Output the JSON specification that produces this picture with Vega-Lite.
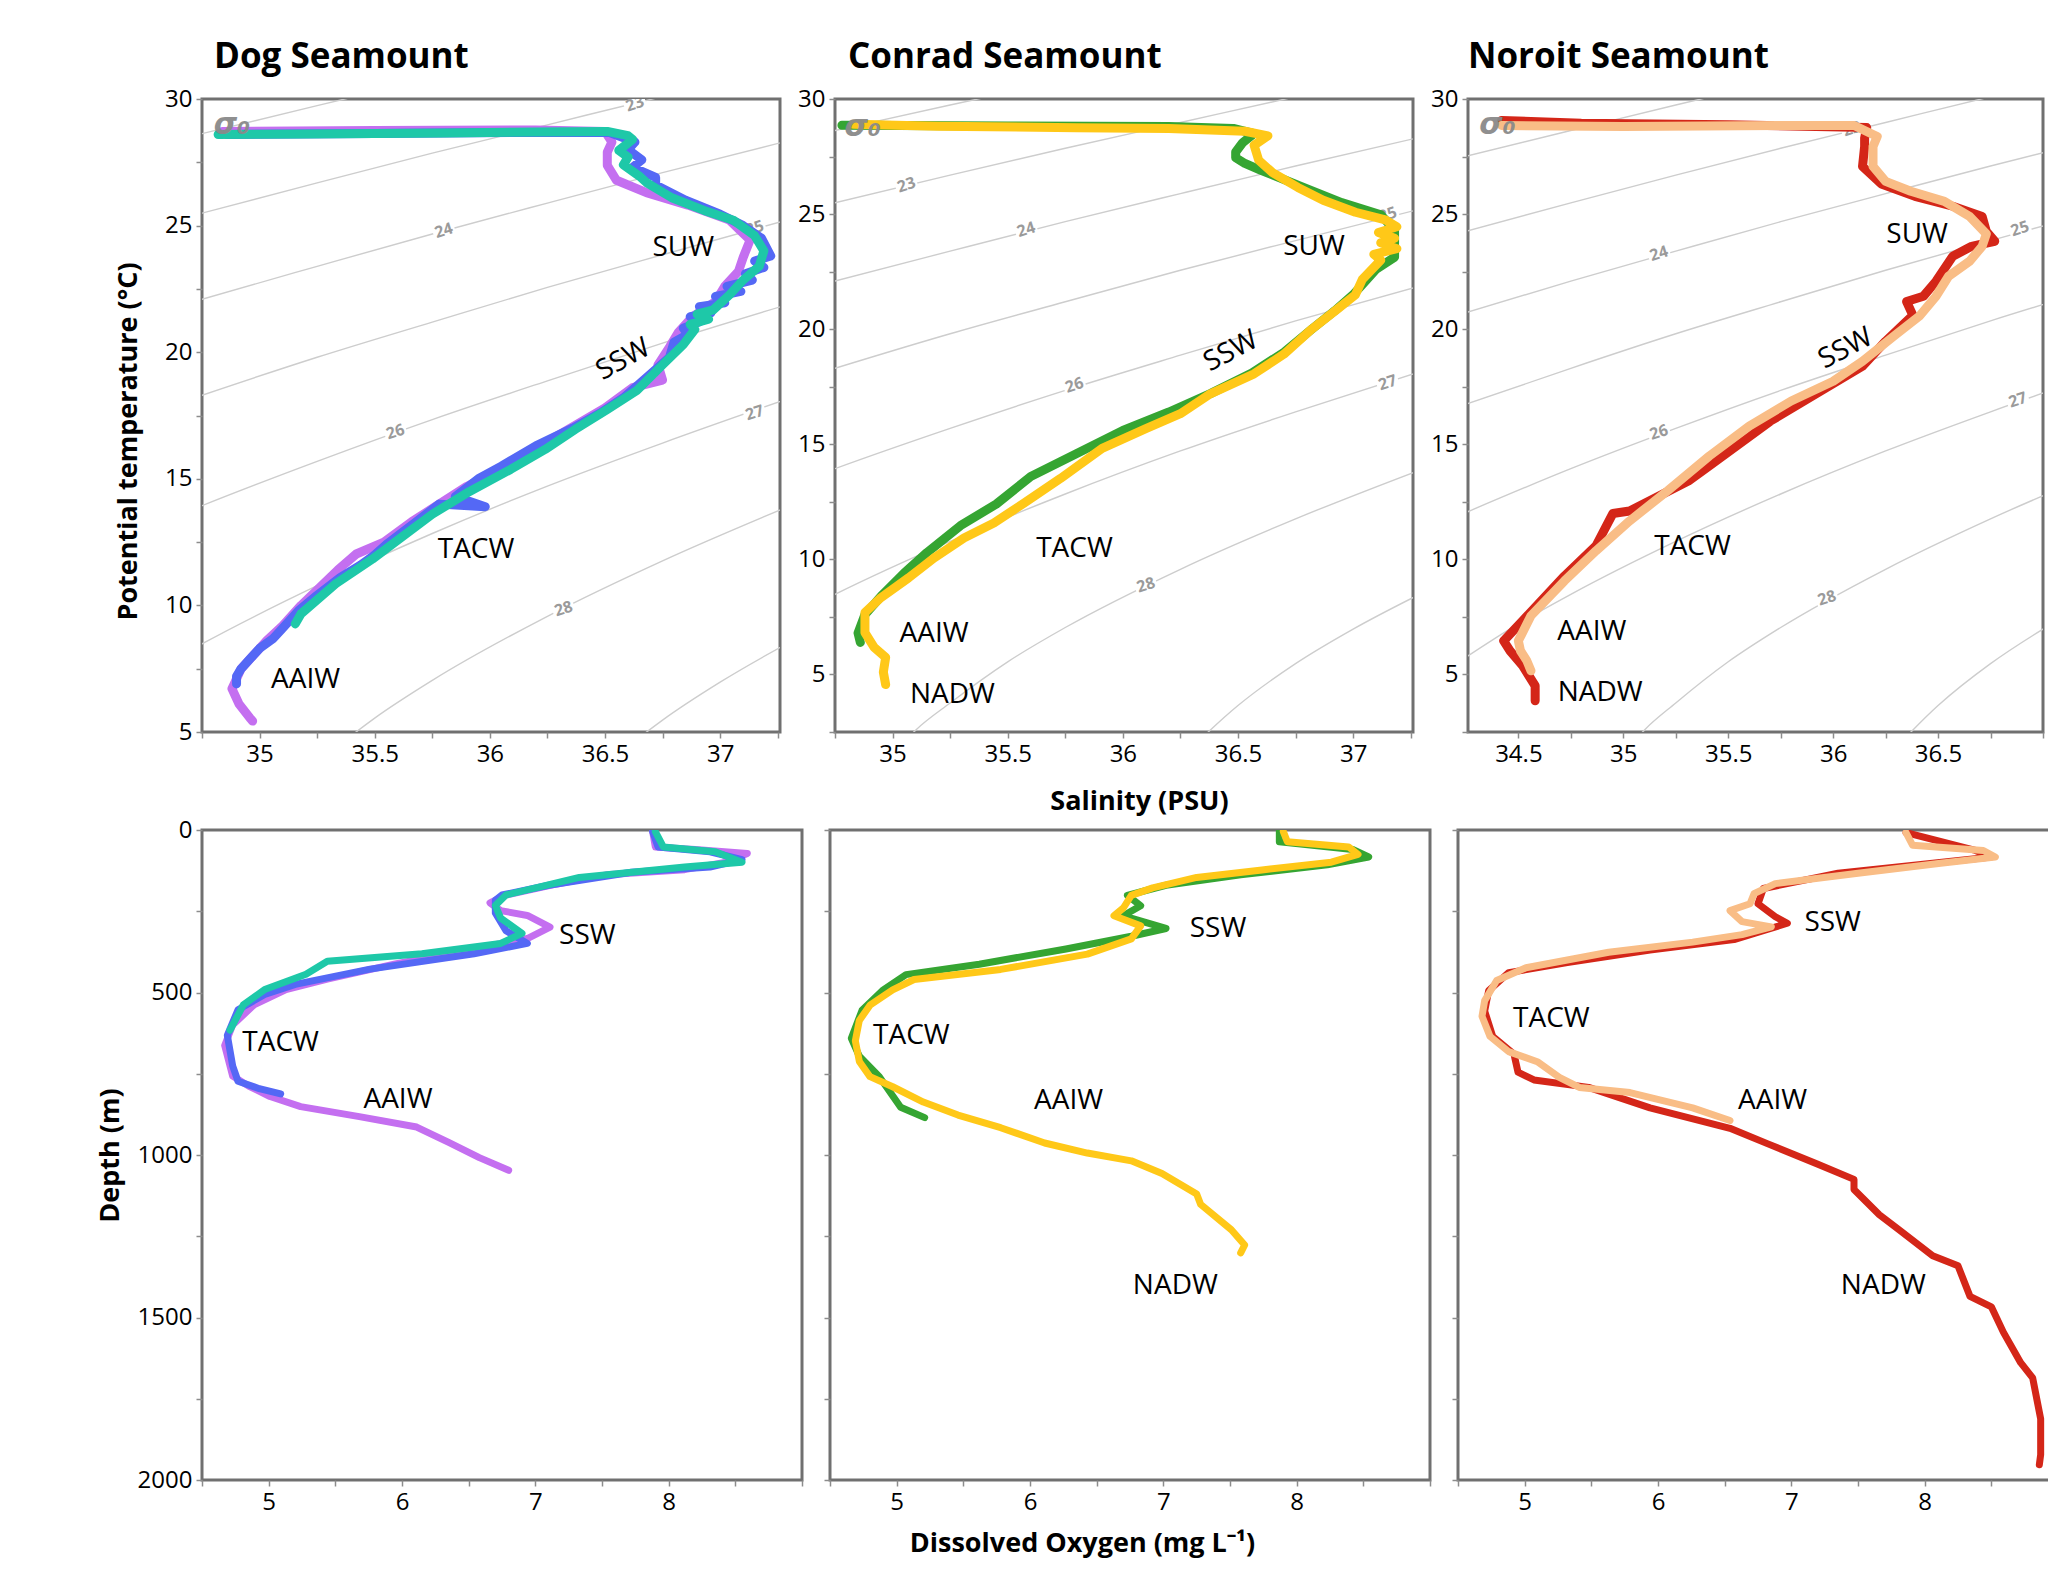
{
"$schema": "https://vega.github.io/schema/vega-lite/v6.json",
"padding": {"left": 94, "top": 38, "right": 0, "bottom": 0},
"background": "white",
"config": {
  "font": "Open Sans",
  "view": {"stroke": "#707070", "strokeWidth": 3},
  "axis": {"domain": false, "grid": false, "tickColor": "#8c8c8c", "tickSize": 6, "tickWidth": 1.5, "labelFontSize": 24, "labelColor": "#000", "labelPadding": 4, "labelFlush": false, "labelOverlap": false, "titleFontSize": 27, "titleFontWeight": "bold", "titleColor": "#000"},
  "title": {"anchor": "start", "frame": "group", "fontSize": 35, "fontWeight": "bold", "color": "#000", "offset": 12, "baseline": "alphabetic"}
},
"datasets": {
  "iso": [
    {"lev":22,"x":34.2,"y":27.40},{"lev":22,"x":34.75,"y":28.63},{"lev":22,"x":35.25,"y":29.74},{"lev":22,"x":35.75,"y":30.82},{"lev":22,"x":36.25,"y":31.88},
    {"lev":23,"x":34.2,"y":24.13},{"lev":23,"x":34.75,"y":25.49},{"lev":23,"x":35.25,"y":26.69},{"lev":23,"x":35.75,"y":27.86},{"lev":23,"x":36.25,"y":28.98},{"lev":23,"x":36.75,"y":30.10},{"lev":23,"x":37.3,"y":31.28},
    {"lev":24,"x":34.2,"y":20.58},{"lev":24,"x":34.75,"y":22.09},{"lev":24,"x":35.25,"y":23.39},{"lev":24,"x":35.75,"y":24.67},{"lev":24,"x":36.25,"y":25.89},{"lev":24,"x":36.75,"y":27.09},{"lev":24,"x":37.3,"y":28.36},
    {"lev":25,"x":34.2,"y":16.58},{"lev":25,"x":34.75,"y":18.30},{"lev":25,"x":35.25,"y":19.80},{"lev":25,"x":35.75,"y":21.19},{"lev":25,"x":36.25,"y":22.56},{"lev":25,"x":36.75,"y":23.85},{"lev":25,"x":37.3,"y":25.24},
    {"lev":26,"x":34.2,"y":11.84},{"lev":26,"x":34.75,"y":13.94},{"lev":26,"x":35.25,"y":15.69},{"lev":26,"x":35.75,"y":17.34},{"lev":26,"x":36.25,"y":18.87},{"lev":26,"x":36.75,"y":20.36},{"lev":26,"x":37.3,"y":21.90},
    {"lev":27,"x":34.2,"y":5.45},{"lev":27,"x":34.5,"y":7.20},{"lev":27,"x":34.75,"y":8.48},{"lev":27,"x":35.25,"y":10.78},{"lev":27,"x":35.75,"y":12.84},{"lev":27,"x":36.25,"y":14.71},{"lev":27,"x":36.75,"y":16.41},{"lev":27,"x":37.3,"y":18.18},
    {"lev":28,"x":35.0,"y":1.53},{"lev":28,"x":35.1,"y":2.58},{"lev":28,"x":35.25,"y":3.76},{"lev":28,"x":35.5,"y":5.55},{"lev":28,"x":35.75,"y":7.04},{"lev":28,"x":36.25,"y":9.57},{"lev":28,"x":36.75,"y":11.76},{"lev":28,"x":37.3,"y":13.92},
    {"lev":29,"x":36.25,"y":1.35},{"lev":29,"x":36.5,"y":3.65},{"lev":29,"x":36.75,"y":5.47},{"lev":29,"x":37.0,"y":6.97},{"lev":29,"x":37.3,"y":8.54}
  ],
  "isolab": [
    {"p":"dog","t":"23","x":36.63,"y":29.8},{"p":"dog","t":"24","x":35.80,"y":24.8},{"p":"dog","t":"25","x":37.15,"y":24.9},{"p":"dog","t":"26","x":35.59,"y":16.85},{"p":"dog","t":"27","x":37.15,"y":17.6},{"p":"dog","t":"28","x":36.32,"y":9.86},
    {"p":"conrad","t":"23","x":35.06,"y":26.26},{"p":"conrad","t":"24","x":35.58,"y":24.32},{"p":"conrad","t":"25","x":37.15,"y":24.97},{"p":"conrad","t":"26","x":35.79,"y":17.56},{"p":"conrad","t":"27","x":37.15,"y":17.67},{"p":"conrad","t":"28","x":36.10,"y":8.88},
    {"p":"noroit","t":"23","x":36.09,"y":28.7},{"p":"noroit","t":"24","x":35.17,"y":23.28},{"p":"noroit","t":"25","x":36.89,"y":24.36},{"p":"noroit","t":"26","x":35.17,"y":15.51},{"p":"noroit","t":"27","x":36.88,"y":16.92},{"p":"noroit","t":"28","x":35.97,"y":8.31}
  ],
  "sig": [
    {"p":"dog","t":"σ₀","x":34.88,"y":28.96},{"p":"conrad","t":"σ₀","x":34.87,"y":28.79},{"p":"noroit","t":"σ₀","x":34.40,"y":28.85}
  ],
  "wm": [
    {"p":"dog","g":"ts","t":"SUW","x":36.84,"y":24.13},{"p":"dog","g":"ts","t":"SSW","x":36.58,"y":19.7},{"p":"dog","g":"ts","t":"TACW","x":35.94,"y":12.17},{"p":"dog","g":"ts","t":"AAIW","x":35.2,"y":7.05},
    {"p":"conrad","g":"ts","t":"SUW","x":36.83,"y":23.56},{"p":"conrad","g":"ts","t":"SSW","x":36.47,"y":19.03},{"p":"conrad","g":"ts","t":"TACW","x":35.79,"y":10.43},{"p":"conrad","g":"ts","t":"AAIW","x":35.18,"y":6.76},{"p":"conrad","g":"ts","t":"NADW","x":35.26,"y":4.12},
    {"p":"noroit","g":"ts","t":"SUW","x":36.40,"y":24.08},{"p":"noroit","g":"ts","t":"SSW","x":36.06,"y":19.15},{"p":"noroit","g":"ts","t":"TACW","x":35.33,"y":10.52},{"p":"noroit","g":"ts","t":"AAIW","x":34.85,"y":6.83},{"p":"noroit","g":"ts","t":"NADW","x":34.89,"y":4.19},
    {"p":"dog","g":"ox","t":"SSW","x":7.39,"y":326},{"p":"dog","g":"ox","t":"TACW","x":5.09,"y":655},{"p":"dog","g":"ox","t":"AAIW","x":5.97,"y":831},
    {"p":"conrad","g":"ox","t":"SSW","x":7.41,"y":306},{"p":"conrad","g":"ox","t":"TACW","x":5.11,"y":633},{"p":"conrad","g":"ox","t":"AAIW","x":6.29,"y":833},{"p":"conrad","g":"ox","t":"NADW","x":7.09,"y":1403},
    {"p":"noroit","g":"ox","t":"SSW","x":7.31,"y":285},{"p":"noroit","g":"ox","t":"TACW","x":5.20,"y":580},{"p":"noroit","g":"ox","t":"AAIW","x":6.86,"y":835},{"p":"noroit","g":"ox","t":"NADW","x":7.69,"y":1404}
  ],
  "ts": [
    {"p":"dog","s":"Dog 1","x":34.84,"y":28.72},{"p":"dog","s":"Dog 1","x":35.5,"y":28.76},{"p":"dog","s":"Dog 1","x":36.2,"y":28.78},{"p":"dog","s":"Dog 1","x":36.5,"y":28.72},{"p":"dog","s":"Dog 1","x":36.53,"y":28.3},{"p":"dog","s":"Dog 1","x":36.51,"y":27.9},{"p":"dog","s":"Dog 1","x":36.51,"y":27.38},{"p":"dog","s":"Dog 1","x":36.55,"y":26.79},{"p":"dog","s":"Dog 1","x":36.68,"y":26.3},{"p":"dog","s":"Dog 1","x":36.86,"y":25.81},{"p":"dog","s":"Dog 1","x":37.04,"y":25.22},{"p":"dog","s":"Dog 1","x":37.13,"y":24.43},{"p":"dog","s":"Dog 1","x":37.10,"y":23.74},{"p":"dog","s":"Dog 1","x":37.08,"y":23.2},{"p":"dog","s":"Dog 1","x":37.02,"y":22.6},{"p":"dog","s":"Dog 1","x":36.98,"y":22.0},{"p":"dog","s":"Dog 1","x":36.88,"y":21.4},{"p":"dog","s":"Dog 1","x":36.82,"y":20.8},{"p":"dog","s":"Dog 1","x":36.78,"y":20.2},{"p":"dog","s":"Dog 1","x":36.73,"y":19.5},{"p":"dog","s":"Dog 1","x":36.75,"y":18.9},{"p":"dog","s":"Dog 1","x":36.62,"y":18.6},{"p":"dog","s":"Dog 1","x":36.5,"y":17.8},{"p":"dog","s":"Dog 1","x":36.35,"y":17.0},{"p":"dog","s":"Dog 1","x":36.2,"y":16.2},{"p":"dog","s":"Dog 1","x":36.05,"y":15.4},{"p":"dog","s":"Dog 1","x":35.9,"y":14.7},{"p":"dog","s":"Dog 1","x":35.78,"y":14.0},{"p":"dog","s":"Dog 1","x":35.66,"y":13.3},{"p":"dog","s":"Dog 1","x":35.54,"y":12.5},{"p":"dog","s":"Dog 1","x":35.42,"y":12.03},{"p":"dog","s":"Dog 1","x":35.34,"y":11.4},{"p":"dog","s":"Dog 1","x":35.26,"y":10.7},{"p":"dog","s":"Dog 1","x":35.18,"y":10.0},{"p":"dog","s":"Dog 1","x":35.1,"y":9.2},{"p":"dog","s":"Dog 1","x":35.03,"y":8.6},{"p":"dog","s":"Dog 1","x":34.97,"y":8.0},{"p":"dog","s":"Dog 1","x":34.92,"y":7.5},{"p":"dog","s":"Dog 1","x":34.89,"y":6.9},{"p":"dog","s":"Dog 1","x":34.88,"y":6.71},{"p":"dog","s":"Dog 1","x":34.91,"y":6.12},{"p":"dog","s":"Dog 1","x":34.96,"y":5.53},{"p":"dog","s":"Dog 1","x":34.97,"y":5.43},
    {"p":"dog","s":"Dog 2","x":34.86,"y":28.6},{"p":"dog","s":"Dog 2","x":35.5,"y":28.64},{"p":"dog","s":"Dog 2","x":36.2,"y":28.68},{"p":"dog","s":"Dog 2","x":36.52,"y":28.68},{"p":"dog","s":"Dog 2","x":36.63,"y":28.3},{"p":"dog","s":"Dog 2","x":36.6,"y":28.0},{"p":"dog","s":"Dog 2","x":36.66,"y":27.6},{"p":"dog","s":"Dog 2","x":36.62,"y":27.3},{"p":"dog","s":"Dog 2","x":36.72,"y":26.9},{"p":"dog","s":"Dog 2","x":36.72,"y":26.6},{"p":"dog","s":"Dog 2","x":36.85,"y":26.0},{"p":"dog","s":"Dog 2","x":37.0,"y":25.45},{"p":"dog","s":"Dog 2","x":37.1,"y":25.0},{"p":"dog","s":"Dog 2","x":37.18,"y":24.5},{"p":"dog","s":"Dog 2","x":37.22,"y":23.8},{"p":"dog","s":"Dog 2","x":37.15,"y":23.6},{"p":"dog","s":"Dog 2","x":37.19,"y":23.35},{"p":"dog","s":"Dog 2","x":37.11,"y":23.1},{"p":"dog","s":"Dog 2","x":37.14,"y":22.85},{"p":"dog","s":"Dog 2","x":37.03,"y":22.6},{"p":"dog","s":"Dog 2","x":37.09,"y":22.4},{"p":"dog","s":"Dog 2","x":36.98,"y":22.2},{"p":"dog","s":"Dog 2","x":37.02,"y":21.95},{"p":"dog","s":"Dog 2","x":36.91,"y":21.8},{"p":"dog","s":"Dog 2","x":36.96,"y":21.55},{"p":"dog","s":"Dog 2","x":36.87,"y":21.4},{"p":"dog","s":"Dog 2","x":36.91,"y":21.2},{"p":"dog","s":"Dog 2","x":36.84,"y":20.95},{"p":"dog","s":"Dog 2","x":36.86,"y":20.7},{"p":"dog","s":"Dog 2","x":36.8,"y":20.4},{"p":"dog","s":"Dog 2","x":36.78,"y":19.8},{"p":"dog","s":"Dog 2","x":36.68,"y":19.0},{"p":"dog","s":"Dog 2","x":36.58,"y":18.2},{"p":"dog","s":"Dog 2","x":36.48,"y":17.6},{"p":"dog","s":"Dog 2","x":36.36,"y":17.0},{"p":"dog","s":"Dog 2","x":36.2,"y":16.3},{"p":"dog","s":"Dog 2","x":36.05,"y":15.5},{"p":"dog","s":"Dog 2","x":35.95,"y":15.0},{"p":"dog","s":"Dog 2","x":35.85,"y":14.3},{"p":"dog","s":"Dog 2","x":35.98,"y":13.9},{"p":"dog","s":"Dog 2","x":35.78,"y":14.0},{"p":"dog","s":"Dog 2","x":35.68,"y":13.3},{"p":"dog","s":"Dog 2","x":35.55,"y":12.4},{"p":"dog","s":"Dog 2","x":35.5,"y":12.0},{"p":"dog","s":"Dog 2","x":35.44,"y":11.6},{"p":"dog","s":"Dog 2","x":35.35,"y":11.1},{"p":"dog","s":"Dog 2","x":35.25,"y":10.4},{"p":"dog","s":"Dog 2","x":35.17,"y":9.8},{"p":"dog","s":"Dog 2","x":35.1,"y":9.1},{"p":"dog","s":"Dog 2","x":35.06,"y":8.7},{"p":"dog","s":"Dog 2","x":35.0,"y":8.3},{"p":"dog","s":"Dog 2","x":34.96,"y":7.9},{"p":"dog","s":"Dog 2","x":34.92,"y":7.5},{"p":"dog","s":"Dog 2","x":34.9,"y":7.2},{"p":"dog","s":"Dog 2","x":34.9,"y":6.9},
    {"p":"dog","s":"Dog 3","x":34.82,"y":28.6},{"p":"dog","s":"Dog 3","x":35.2,"y":28.62},{"p":"dog","s":"Dog 3","x":35.8,"y":28.66},{"p":"dog","s":"Dog 3","x":36.2,"y":28.7},{"p":"dog","s":"Dog 3","x":36.51,"y":28.72},{"p":"dog","s":"Dog 3","x":36.6,"y":28.55},{"p":"dog","s":"Dog 3","x":36.62,"y":28.4},{"p":"dog","s":"Dog 3","x":36.56,"y":27.97},{"p":"dog","s":"Dog 3","x":36.6,"y":27.7},{"p":"dog","s":"Dog 3","x":36.58,"y":27.4},{"p":"dog","s":"Dog 3","x":36.65,"y":26.95},{"p":"dog","s":"Dog 3","x":36.68,"y":26.7},{"p":"dog","s":"Dog 3","x":36.79,"y":26.1},{"p":"dog","s":"Dog 3","x":36.93,"y":25.6},{"p":"dog","s":"Dog 3","x":37.06,"y":25.2},{"p":"dog","s":"Dog 3","x":37.15,"y":24.6},{"p":"dog","s":"Dog 3","x":37.19,"y":24.0},{"p":"dog","s":"Dog 3","x":37.17,"y":23.4},{"p":"dog","s":"Dog 3","x":37.10,"y":22.85},{"p":"dog","s":"Dog 3","x":37.04,"y":22.26},{"p":"dog","s":"Dog 3","x":36.97,"y":21.67},{"p":"dog","s":"Dog 3","x":36.9,"y":21.5},{"p":"dog","s":"Dog 3","x":36.95,"y":21.3},{"p":"dog","s":"Dog 3","x":36.87,"y":21.1},{"p":"dog","s":"Dog 3","x":36.89,"y":20.9},{"p":"dog","s":"Dog 3","x":36.84,"y":20.3},{"p":"dog","s":"Dog 3","x":36.75,"y":19.5},{"p":"dog","s":"Dog 3","x":36.64,"y":18.5},{"p":"dog","s":"Dog 3","x":36.51,"y":17.74},{"p":"dog","s":"Dog 3","x":36.37,"y":16.95},{"p":"dog","s":"Dog 3","x":36.24,"y":16.16},{"p":"dog","s":"Dog 3","x":36.09,"y":15.37},{"p":"dog","s":"Dog 3","x":35.91,"y":14.49},{"p":"dog","s":"Dog 3","x":35.75,"y":13.6},{"p":"dog","s":"Dog 3","x":35.62,"y":12.72},{"p":"dog","s":"Dog 3","x":35.49,"y":11.83},{"p":"dog","s":"Dog 3","x":35.33,"y":10.85},{"p":"dog","s":"Dog 3","x":35.18,"y":9.67},{"p":"dog","s":"Dog 3","x":35.155,"y":9.27},
    {"p":"conrad","s":"Conrad 1","x":34.78,"y":28.86},{"p":"conrad","s":"Conrad 1","x":35.5,"y":28.83},{"p":"conrad","s":"Conrad 1","x":36.2,"y":28.8},{"p":"conrad","s":"Conrad 1","x":36.48,"y":28.72},{"p":"conrad","s":"Conrad 1","x":36.57,"y":28.5},{"p":"conrad","s":"Conrad 1","x":36.52,"y":28.1},{"p":"conrad","s":"Conrad 1","x":36.49,"y":27.7},{"p":"conrad","s":"Conrad 1","x":36.49,"y":27.45},{"p":"conrad","s":"Conrad 1","x":36.53,"y":27.2},{"p":"conrad","s":"Conrad 1","x":36.6,"y":26.9},{"p":"conrad","s":"Conrad 1","x":36.76,"y":26.26},{"p":"conrad","s":"Conrad 1","x":36.95,"y":25.5},{"p":"conrad","s":"Conrad 1","x":37.12,"y":24.97},{"p":"conrad","s":"Conrad 1","x":37.18,"y":24.3},{"p":"conrad","s":"Conrad 1","x":37.18,"y":23.13},{"p":"conrad","s":"Conrad 1","x":37.1,"y":22.6},{"p":"conrad","s":"Conrad 1","x":37.06,"y":22.16},{"p":"conrad","s":"Conrad 1","x":37.0,"y":21.5},{"p":"conrad","s":"Conrad 1","x":36.92,"y":20.8},{"p":"conrad","s":"Conrad 1","x":36.82,"y":20.0},{"p":"conrad","s":"Conrad 1","x":36.7,"y":19.0},{"p":"conrad","s":"Conrad 1","x":36.56,"y":18.1},{"p":"conrad","s":"Conrad 1","x":36.38,"y":17.2},{"p":"conrad","s":"Conrad 1","x":36.2,"y":16.4},{"p":"conrad","s":"Conrad 1","x":36.0,"y":15.6},{"p":"conrad","s":"Conrad 1","x":35.8,"y":14.6},{"p":"conrad","s":"Conrad 1","x":35.6,"y":13.6},{"p":"conrad","s":"Conrad 1","x":35.45,"y":12.4},{"p":"conrad","s":"Conrad 1","x":35.3,"y":11.5},{"p":"conrad","s":"Conrad 1","x":35.15,"y":10.3},{"p":"conrad","s":"Conrad 1","x":35.05,"y":9.4},{"p":"conrad","s":"Conrad 1","x":34.95,"y":8.4},{"p":"conrad","s":"Conrad 1","x":34.88,"y":7.6},{"p":"conrad","s":"Conrad 1","x":34.85,"y":6.8},{"p":"conrad","s":"Conrad 1","x":34.86,"y":6.39},
    {"p":"conrad","s":"Conrad 2","x":34.83,"y":28.9},{"p":"conrad","s":"Conrad 2","x":35.2,"y":28.82},{"p":"conrad","s":"Conrad 2","x":35.8,"y":28.75},{"p":"conrad","s":"Conrad 2","x":36.2,"y":28.72},{"p":"conrad","s":"Conrad 2","x":36.53,"y":28.6},{"p":"conrad","s":"Conrad 2","x":36.63,"y":28.4},{"p":"conrad","s":"Conrad 2","x":36.57,"y":27.99},{"p":"conrad","s":"Conrad 2","x":36.59,"y":27.34},{"p":"conrad","s":"Conrad 2","x":36.65,"y":26.8},{"p":"conrad","s":"Conrad 2","x":36.76,"y":26.16},{"p":"conrad","s":"Conrad 2","x":36.87,"y":25.6},{"p":"conrad","s":"Conrad 2","x":37.01,"y":25.08},{"p":"conrad","s":"Conrad 2","x":37.14,"y":24.75},{"p":"conrad","s":"Conrad 2","x":37.19,"y":24.45},{"p":"conrad","s":"Conrad 2","x":37.11,"y":24.2},{"p":"conrad","s":"Conrad 2","x":37.18,"y":23.95},{"p":"conrad","s":"Conrad 2","x":37.12,"y":23.75},{"p":"conrad","s":"Conrad 2","x":37.19,"y":23.5},{"p":"conrad","s":"Conrad 2","x":37.09,"y":23.25},{"p":"conrad","s":"Conrad 2","x":37.12,"y":23.0},{"p":"conrad","s":"Conrad 2","x":37.04,"y":22.16},{"p":"conrad","s":"Conrad 2","x":37.01,"y":21.5},{"p":"conrad","s":"Conrad 2","x":36.93,"y":20.86},{"p":"conrad","s":"Conrad 2","x":36.82,"y":20.0},{"p":"conrad","s":"Conrad 2","x":36.70,"y":18.92},{"p":"conrad","s":"Conrad 2","x":36.57,"y":18.06},{"p":"conrad","s":"Conrad 2","x":36.38,"y":17.19},{"p":"conrad","s":"Conrad 2","x":36.25,"y":16.33},{"p":"conrad","s":"Conrad 2","x":36.10,"y":15.68},{"p":"conrad","s":"Conrad 2","x":35.91,"y":14.82},{"p":"conrad","s":"Conrad 2","x":35.73,"y":13.52},{"p":"conrad","s":"Conrad 2","x":35.57,"y":12.44},{"p":"conrad","s":"Conrad 2","x":35.44,"y":11.58},{"p":"conrad","s":"Conrad 2","x":35.31,"y":10.93},{"p":"conrad","s":"Conrad 2","x":35.18,"y":10.06},{"p":"conrad","s":"Conrad 2","x":35.07,"y":9.2},{"p":"conrad","s":"Conrad 2","x":34.95,"y":8.34},{"p":"conrad","s":"Conrad 2","x":34.88,"y":7.69},{"p":"conrad","s":"Conrad 2","x":34.88,"y":6.82},{"p":"conrad","s":"Conrad 2","x":34.92,"y":6.18},{"p":"conrad","s":"Conrad 2","x":34.97,"y":5.74},{"p":"conrad","s":"Conrad 2","x":34.96,"y":5.1},{"p":"conrad","s":"Conrad 2","x":34.97,"y":4.56},
    {"p":"noroit","s":"Noroit 1","x":34.42,"y":29.07},{"p":"noroit","s":"Noroit 1","x":34.8,"y":28.95},{"p":"noroit","s":"Noroit 1","x":35.5,"y":28.88},{"p":"noroit","s":"Noroit 1","x":36.16,"y":28.76},{"p":"noroit","s":"Noroit 1","x":36.15,"y":28.3},{"p":"noroit","s":"Noroit 1","x":36.15,"y":27.94},{"p":"noroit","s":"Noroit 1","x":36.14,"y":27.07},{"p":"noroit","s":"Noroit 1","x":36.23,"y":26.31},{"p":"noroit","s":"Noroit 1","x":36.39,"y":25.77},{"p":"noroit","s":"Noroit 1","x":36.57,"y":25.34},{"p":"noroit","s":"Noroit 1","x":36.71,"y":24.9},{"p":"noroit","s":"Noroit 1","x":36.73,"y":24.25},{"p":"noroit","s":"Noroit 1","x":36.77,"y":23.82},{"p":"noroit","s":"Noroit 1","x":36.66,"y":23.6},{"p":"noroit","s":"Noroit 1","x":36.57,"y":23.17},{"p":"noroit","s":"Noroit 1","x":36.49,"y":22.08},{"p":"noroit","s":"Noroit 1","x":36.43,"y":21.43},{"p":"noroit","s":"Noroit 1","x":36.35,"y":21.2},{"p":"noroit","s":"Noroit 1","x":36.38,"y":20.6},{"p":"noroit","s":"Noroit 1","x":36.25,"y":19.48},{"p":"noroit","s":"Noroit 1","x":36.14,"y":18.39},{"p":"noroit","s":"Noroit 1","x":35.9,"y":17.09},{"p":"noroit","s":"Noroit 1","x":35.70,"y":16.0},{"p":"noroit","s":"Noroit 1","x":35.41,"y":14.06},{"p":"noroit","s":"Noroit 1","x":35.31,"y":13.4},{"p":"noroit","s":"Noroit 1","x":35.03,"y":12.1},{"p":"noroit","s":"Noroit 1","x":34.95,"y":11.99},{"p":"noroit","s":"Noroit 1","x":34.87,"y":10.59},{"p":"noroit","s":"Noroit 1","x":34.72,"y":9.28},{"p":"noroit","s":"Noroit 1","x":34.52,"y":7.33},{"p":"noroit","s":"Noroit 1","x":34.43,"y":6.46},{"p":"noroit","s":"Noroit 1","x":34.46,"y":6.03},{"p":"noroit","s":"Noroit 1","x":34.52,"y":5.38},{"p":"noroit","s":"Noroit 1","x":34.58,"y":4.51},{"p":"noroit","s":"Noroit 1","x":34.58,"y":3.86},
    {"p":"noroit","s":"Noroit 2","x":34.42,"y":28.85},{"p":"noroit","s":"Noroit 2","x":35.0,"y":28.8},{"p":"noroit","s":"Noroit 2","x":35.8,"y":28.85},{"p":"noroit","s":"Noroit 2","x":36.10,"y":28.85},{"p":"noroit","s":"Noroit 2","x":36.21,"y":28.37},{"p":"noroit","s":"Noroit 2","x":36.19,"y":27.94},{"p":"noroit","s":"Noroit 2","x":36.19,"y":27.07},{"p":"noroit","s":"Noroit 2","x":36.25,"y":26.42},{"p":"noroit","s":"Noroit 2","x":36.37,"y":25.99},{"p":"noroit","s":"Noroit 2","x":36.53,"y":25.55},{"p":"noroit","s":"Noroit 2","x":36.65,"y":24.9},{"p":"noroit","s":"Noroit 2","x":36.73,"y":24.14},{"p":"noroit","s":"Noroit 2","x":36.71,"y":23.6},{"p":"noroit","s":"Noroit 2","x":36.65,"y":22.95},{"p":"noroit","s":"Noroit 2","x":36.55,"y":22.3},{"p":"noroit","s":"Noroit 2","x":36.49,"y":21.43},{"p":"noroit","s":"Noroit 2","x":36.41,"y":20.56},{"p":"noroit","s":"Noroit 2","x":36.29,"y":19.7},{"p":"noroit","s":"Noroit 2","x":36.14,"y":18.61},{"p":"noroit","s":"Noroit 2","x":36.0,"y":17.74},{"p":"noroit","s":"Noroit 2","x":35.80,"y":16.88},{"p":"noroit","s":"Noroit 2","x":35.60,"y":15.79},{"p":"noroit","s":"Noroit 2","x":35.41,"y":14.49},{"p":"noroit","s":"Noroit 2","x":35.21,"y":12.97},{"p":"noroit","s":"Noroit 2","x":35.03,"y":11.67},{"p":"noroit","s":"Noroit 2","x":34.87,"y":10.37},{"p":"noroit","s":"Noroit 2","x":34.72,"y":9.07},{"p":"noroit","s":"Noroit 2","x":34.56,"y":7.55},{"p":"noroit","s":"Noroit 2","x":34.5,"y":6.46},{"p":"noroit","s":"Noroit 2","x":34.51,"y":6.03},{"p":"noroit","s":"Noroit 2","x":34.54,"y":5.6},{"p":"noroit","s":"Noroit 2","x":34.56,"y":5.16}
  ],
  "ox": [
    {"p":"dog","s":"Dog 1","x":7.88,"y":5},{"p":"dog","s":"Dog 1","x":7.90,"y":52},{"p":"dog","s":"Dog 1","x":8.2,"y":60},{"p":"dog","s":"Dog 1","x":8.59,"y":72},{"p":"dog","s":"Dog 1","x":8.43,"y":99},{"p":"dog","s":"Dog 1","x":8.12,"y":122},{"p":"dog","s":"Dog 1","x":7.53,"y":138},{"p":"dog","s":"Dog 1","x":7.13,"y":169},{"p":"dog","s":"Dog 1","x":6.78,"y":200},{"p":"dog","s":"Dog 1","x":6.66,"y":224},{"p":"dog","s":"Dog 1","x":6.74,"y":248},{"p":"dog","s":"Dog 1","x":6.94,"y":263},{"p":"dog","s":"Dog 1","x":7.11,"y":299},{"p":"dog","s":"Dog 1","x":6.94,"y":334},{"p":"dog","s":"Dog 1","x":6.54,"y":365},{"p":"dog","s":"Dog 1","x":5.95,"y":412},{"p":"dog","s":"Dog 1","x":5.44,"y":459},{"p":"dog","s":"Dog 1","x":5.13,"y":491},{"p":"dog","s":"Dog 1","x":4.89,"y":538},{"p":"dog","s":"Dog 1","x":4.73,"y":600},{"p":"dog","s":"Dog 1","x":4.67,"y":663},{"p":"dog","s":"Dog 1","x":4.73,"y":757},{"p":"dog","s":"Dog 1","x":4.85,"y":788},{"p":"dog","s":"Dog 1","x":5.01,"y":820},{"p":"dog","s":"Dog 1","x":5.24,"y":851},{"p":"dog","s":"Dog 1","x":5.68,"y":882},{"p":"dog","s":"Dog 1","x":6.11,"y":914},{"p":"dog","s":"Dog 1","x":6.35,"y":961},{"p":"dog","s":"Dog 1","x":6.58,"y":1008},{"p":"dog","s":"Dog 1","x":6.80,"y":1047},
    {"p":"dog","s":"Dog 2","x":7.88,"y":5},{"p":"dog","s":"Dog 2","x":7.92,"y":52},{"p":"dog","s":"Dog 2","x":8.31,"y":67},{"p":"dog","s":"Dog 2","x":8.55,"y":91},{"p":"dog","s":"Dog 2","x":8.31,"y":114},{"p":"dog","s":"Dog 2","x":7.72,"y":130},{"p":"dog","s":"Dog 2","x":7.1,"y":170},{"p":"dog","s":"Dog 2","x":6.75,"y":200},{"p":"dog","s":"Dog 2","x":6.70,"y":216},{"p":"dog","s":"Dog 2","x":6.70,"y":255},{"p":"dog","s":"Dog 2","x":6.78,"y":310},{"p":"dog","s":"Dog 2","x":6.94,"y":349},{"p":"dog","s":"Dog 2","x":6.54,"y":381},{"p":"dog","s":"Dog 2","x":5.76,"y":428},{"p":"dog","s":"Dog 2","x":5.20,"y":475},{"p":"dog","s":"Dog 2","x":4.97,"y":506},{"p":"dog","s":"Dog 2","x":4.77,"y":553},{"p":"dog","s":"Dog 2","x":4.69,"y":632},{"p":"dog","s":"Dog 2","x":4.73,"y":726},{"p":"dog","s":"Dog 2","x":4.77,"y":773},{"p":"dog","s":"Dog 2","x":4.93,"y":796},{"p":"dog","s":"Dog 2","x":5.09,"y":812},
    {"p":"dog","s":"Dog 3","x":7.90,"y":5},{"p":"dog","s":"Dog 3","x":7.96,"y":52},{"p":"dog","s":"Dog 3","x":8.35,"y":67},{"p":"dog","s":"Dog 3","x":8.55,"y":99},{"p":"dog","s":"Dog 3","x":8.12,"y":114},{"p":"dog","s":"Dog 3","x":7.33,"y":146},{"p":"dog","s":"Dog 3","x":6.78,"y":200},{"p":"dog","s":"Dog 3","x":6.70,"y":232},{"p":"dog","s":"Dog 3","x":6.74,"y":271},{"p":"dog","s":"Dog 3","x":6.90,"y":318},{"p":"dog","s":"Dog 3","x":6.74,"y":349},{"p":"dog","s":"Dog 3","x":6.15,"y":381},{"p":"dog","s":"Dog 3","x":5.44,"y":404},{"p":"dog","s":"Dog 3","x":5.28,"y":444},{"p":"dog","s":"Dog 3","x":4.97,"y":491},{"p":"dog","s":"Dog 3","x":4.81,"y":538},{"p":"dog","s":"Dog 3","x":4.71,"y":616},
    {"p":"conrad","s":"Conrad 1","x":7.87,"y":5},{"p":"conrad","s":"Conrad 1","x":7.87,"y":36},{"p":"conrad","s":"Conrad 1","x":8.42,"y":60},{"p":"conrad","s":"Conrad 1","x":8.54,"y":83},{"p":"conrad","s":"Conrad 1","x":8.23,"y":107},{"p":"conrad","s":"Conrad 1","x":7.58,"y":138},{"p":"conrad","s":"Conrad 1","x":7.02,"y":170},{"p":"conrad","s":"Conrad 1","x":6.73,"y":201},{"p":"conrad","s":"Conrad 1","x":6.83,"y":233},{"p":"conrad","s":"Conrad 1","x":6.70,"y":264},{"p":"conrad","s":"Conrad 1","x":7.02,"y":303},{"p":"conrad","s":"Conrad 1","x":6.76,"y":327},{"p":"conrad","s":"Conrad 1","x":6.27,"y":366},{"p":"conrad","s":"Conrad 1","x":5.62,"y":413},{"p":"conrad","s":"Conrad 1","x":5.07,"y":445},{"p":"conrad","s":"Conrad 1","x":4.90,"y":492},{"p":"conrad","s":"Conrad 1","x":4.74,"y":555},{"p":"conrad","s":"Conrad 1","x":4.66,"y":641},{"p":"conrad","s":"Conrad 1","x":4.72,"y":696},{"p":"conrad","s":"Conrad 1","x":4.87,"y":759},{"p":"conrad","s":"Conrad 1","x":5.03,"y":853},{"p":"conrad","s":"Conrad 1","x":5.21,"y":885},
    {"p":"conrad","s":"Conrad 2","x":7.90,"y":5},{"p":"conrad","s":"Conrad 2","x":7.93,"y":36},{"p":"conrad","s":"Conrad 2","x":8.39,"y":52},{"p":"conrad","s":"Conrad 2","x":8.46,"y":75},{"p":"conrad","s":"Conrad 2","x":8.26,"y":99},{"p":"conrad","s":"Conrad 2","x":7.74,"y":123},{"p":"conrad","s":"Conrad 2","x":7.25,"y":146},{"p":"conrad","s":"Conrad 2","x":6.92,"y":178},{"p":"conrad","s":"Conrad 2","x":6.76,"y":201},{"p":"conrad","s":"Conrad 2","x":6.70,"y":240},{"p":"conrad","s":"Conrad 2","x":6.63,"y":264},{"p":"conrad","s":"Conrad 2","x":6.83,"y":295},{"p":"conrad","s":"Conrad 2","x":6.76,"y":335},{"p":"conrad","s":"Conrad 2","x":6.43,"y":382},{"p":"conrad","s":"Conrad 2","x":5.78,"y":429},{"p":"conrad","s":"Conrad 2","x":5.13,"y":460},{"p":"conrad","s":"Conrad 2","x":4.97,"y":492},{"p":"conrad","s":"Conrad 2","x":4.80,"y":539},{"p":"conrad","s":"Conrad 2","x":4.72,"y":586},{"p":"conrad","s":"Conrad 2","x":4.69,"y":649},{"p":"conrad","s":"Conrad 2","x":4.72,"y":712},{"p":"conrad","s":"Conrad 2","x":4.80,"y":759},{"p":"conrad","s":"Conrad 2","x":4.97,"y":790},{"p":"conrad","s":"Conrad 2","x":5.20,"y":837},{"p":"conrad","s":"Conrad 2","x":5.46,"y":877},{"p":"conrad","s":"Conrad 2","x":5.78,"y":916},{"p":"conrad","s":"Conrad 2","x":6.11,"y":963},{"p":"conrad","s":"Conrad 2","x":6.43,"y":994},{"p":"conrad","s":"Conrad 2","x":6.76,"y":1018},{"p":"conrad","s":"Conrad 2","x":6.99,"y":1057},{"p":"conrad","s":"Conrad 2","x":7.25,"y":1120},{"p":"conrad","s":"Conrad 2","x":7.28,"y":1152},{"p":"conrad","s":"Conrad 2","x":7.51,"y":1230},{"p":"conrad","s":"Conrad 2","x":7.61,"y":1277},{"p":"conrad","s":"Conrad 2","x":7.58,"y":1301},
    {"p":"noroit","s":"Noroit 1","x":7.86,"y":8},{"p":"noroit","s":"Noroit 1","x":8.38,"y":63},{"p":"noroit","s":"Noroit 1","x":8.50,"y":83},{"p":"noroit","s":"Noroit 1","x":8.06,"y":102},{"p":"noroit","s":"Noroit 1","x":7.35,"y":133},{"p":"noroit","s":"Noroit 1","x":6.79,"y":180},{"p":"noroit","s":"Noroit 1","x":6.75,"y":227},{"p":"noroit","s":"Noroit 1","x":6.88,"y":267},{"p":"noroit","s":"Noroit 1","x":6.97,"y":287},{"p":"noroit","s":"Noroit 1","x":6.82,"y":306},{"p":"noroit","s":"Noroit 1","x":6.57,"y":337},{"p":"noroit","s":"Noroit 1","x":5.94,"y":369},{"p":"noroit","s":"Noroit 1","x":5.32,"y":408},{"p":"noroit","s":"Noroit 1","x":4.88,"y":439},{"p":"noroit","s":"Noroit 1","x":4.73,"y":494},{"p":"noroit","s":"Noroit 1","x":4.70,"y":557},{"p":"noroit","s":"Noroit 1","x":4.76,"y":635},{"p":"noroit","s":"Noroit 1","x":4.92,"y":690},{"p":"noroit","s":"Noroit 1","x":4.95,"y":745},{"p":"noroit","s":"Noroit 1","x":5.07,"y":769},{"p":"noroit","s":"Noroit 1","x":5.48,"y":792},{"p":"noroit","s":"Noroit 1","x":5.94,"y":855},{"p":"noroit","s":"Noroit 1","x":6.54,"y":918},{"p":"noroit","s":"Noroit 1","x":6.82,"y":965},{"p":"noroit","s":"Noroit 1","x":7.19,"y":1027},{"p":"noroit","s":"Noroit 1","x":7.47,"y":1075},{"p":"noroit","s":"Noroit 1","x":7.47,"y":1106},{"p":"noroit","s":"Noroit 1","x":7.66,"y":1184},{"p":"noroit","s":"Noroit 1","x":7.81,"y":1231},{"p":"noroit","s":"Noroit 1","x":8.06,"y":1310},{"p":"noroit","s":"Noroit 1","x":8.25,"y":1341},{"p":"noroit","s":"Noroit 1","x":8.34,"y":1435},{"p":"noroit","s":"Noroit 1","x":8.50,"y":1467},{"p":"noroit","s":"Noroit 1","x":8.59,"y":1545},{"p":"noroit","s":"Noroit 1","x":8.72,"y":1639},{"p":"noroit","s":"Noroit 1","x":8.81,"y":1686},{"p":"noroit","s":"Noroit 1","x":8.87,"y":1812},{"p":"noroit","s":"Noroit 1","x":8.87,"y":1922},{"p":"noroit","s":"Noroit 1","x":8.86,"y":1953},
    {"p":"noroit","s":"Noroit 2","x":7.86,"y":8},{"p":"noroit","s":"Noroit 2","x":7.91,"y":47},{"p":"noroit","s":"Noroit 2","x":8.44,"y":63},{"p":"noroit","s":"Noroit 2","x":8.53,"y":83},{"p":"noroit","s":"Noroit 2","x":8.12,"y":102},{"p":"noroit","s":"Noroit 2","x":7.50,"y":133},{"p":"noroit","s":"Noroit 2","x":6.88,"y":165},{"p":"noroit","s":"Noroit 2","x":6.72,"y":196},{"p":"noroit","s":"Noroit 2","x":6.69,"y":227},{"p":"noroit","s":"Noroit 2","x":6.54,"y":248},{"p":"noroit","s":"Noroit 2","x":6.63,"y":282},{"p":"noroit","s":"Noroit 2","x":6.85,"y":298},{"p":"noroit","s":"Noroit 2","x":6.63,"y":322},{"p":"noroit","s":"Noroit 2","x":6.26,"y":345},{"p":"noroit","s":"Noroit 2","x":5.63,"y":376},{"p":"noroit","s":"Noroit 2","x":5.01,"y":424},{"p":"noroit","s":"Noroit 2","x":4.79,"y":463},{"p":"noroit","s":"Noroit 2","x":4.70,"y":525},{"p":"noroit","s":"Noroit 2","x":4.68,"y":573},{"p":"noroit","s":"Noroit 2","x":4.74,"y":635},{"p":"noroit","s":"Noroit 2","x":4.88,"y":682},{"p":"noroit","s":"Noroit 2","x":5.10,"y":714},{"p":"noroit","s":"Noroit 2","x":5.26,"y":761},{"p":"noroit","s":"Noroit 2","x":5.41,"y":792},{"p":"noroit","s":"Noroit 2","x":5.79,"y":808},{"p":"noroit","s":"Noroit 2","x":6.26,"y":855},{"p":"noroit","s":"Noroit 2","x":6.54,"y":894}
  ]
},
"spacing": 0,
"vconcat": [
  {
    "hconcat": [
      {
        "width": 578, "height": 633,
        "title": {"text": "Dog Seamount", "dx": 12},
        "encoding": {
          "x": {"field": "x", "type": "quantitative", "scale": {"domain": [34.75, 37.26], "nice": false, "zero": false}, "axis": {"title": null, "values": [34.75,35,35.25,35.5,35.75,36,36.25,36.5,36.75,37,37.25], "format": "~g", "labelExpr": "(datum.value*2)%1===0 ? datum.label : ''"}},
          "y": {"field": "y", "type": "quantitative", "scale": {"domain": [5, 30], "nice": false, "zero": false}, "axis": {"title": "Potential temperature (°C)", "titleX": -74, "titleY": 342, "titleBaseline": "middle", "values": [5,7.5,10,12.5,15,17.5,20,22.5,25,27.5,30], "format": "~g", "labelExpr": "datum.value%5===0 ? datum.label : ''"}}
        },
        "layer": [
          {"data": {"name": "iso"}, "mark": {"type": "line", "clip": true, "color": "#cdcdcd", "strokeWidth": 1.4, "interpolate": "monotone"}, "encoding": {"detail": {"field": "lev", "type": "nominal"}, "order": {"value": null}}},
          {"data": {"name": "isolab"}, "transform": [{"filter": "datum.p === 'dog'"}], "mark": {"type": "point", "shape": "M-1.1,-0.6L1.1,-0.6L1.1,0.6L-1.1,0.6Z", "size": 400, "angle": 342, "filled": true, "color": "white", "opacity": 1, "clip": true}, "encoding": {}},
          {"data": {"name": "isolab"}, "transform": [{"filter": "datum.p === 'dog'"}], "mark": {"type": "text", "color": "#9a9a9a", "fontSize": 16, "fontWeight": "bold", "angle": 342, "clip": true}, "encoding": {"text": {"field": "t"}}},
          {"data": {"name": "ts"}, "transform": [{"filter": "datum.p === 'dog'"}], "mark": {"type": "line", "strokeWidth": 9, "strokeCap": "round", "strokeJoin": "round", "clip": true}, "encoding": {"color": {"field": "s", "type": "nominal", "legend": null, "scale": {"domain": ["Dog 1","Dog 2","Dog 3","Conrad 1","Conrad 2","Noroit 1","Noroit 2"], "range": ["#c46ff0","#5468f5","#1ec8a8","#35a532","#ffc818","#d42618","#f9bd86"]}}, "order": {"value": null}}},
          {"data": {"name": "sig"}, "transform": [{"filter": "datum.p === 'dog'"}], "mark": {"type": "text", "color": "#8a8a8a", "fontSize": 30, "fontWeight": "bold", "fontStyle": "italic", "font": "DejaVu Sans", "opacity": 0.95}, "encoding": {"text": {"field": "t"}}},
          {"data": {"name": "wm"}, "transform": [{"filter": "datum.p === 'dog' && datum.g === 'ts' && datum.t !== 'SSW'"}], "mark": {"type": "text", "fontSize": 28, "color": "#000"}, "encoding": {"text": {"field": "t"}}},
          {"data": {"name": "wm"}, "transform": [{"filter": "datum.p === 'dog' && datum.g === 'ts' && datum.t === 'SSW'"}], "mark": {"type": "text", "fontSize": 28, "color": "#000", "angle": 331}, "encoding": {"text": {"field": "t"}}}
        ]
      },
      {
        "width": 578, "height": 633,
        "title": {"text": "Conrad Seamount", "dx": 13},
        "encoding": {
          "x": {"field": "x", "type": "quantitative", "scale": {"domain": [34.75, 37.26], "nice": false, "zero": false}, "axis": {"title": "Salinity (PSU)", "titleX": 304, "titleY": 69, "titleBaseline": "middle", "values": [34.75,35,35.25,35.5,35.75,36,36.25,36.5,36.75,37,37.25], "format": "~g", "labelExpr": "(datum.value*2)%1===0 ? datum.label : ''"}},
          "y": {"field": "y", "type": "quantitative", "scale": {"domain": [2.5, 30], "nice": false, "zero": false}, "axis": {"title": null, "values": [2.5,5,7.5,10,12.5,15,17.5,20,22.5,25,27.5,30], "format": "~g", "labelExpr": "datum.value%5===0 ? datum.label : ''"}}
        },
        "layer": [
          {"data": {"name": "iso"}, "mark": {"type": "line", "clip": true, "color": "#cdcdcd", "strokeWidth": 1.4, "interpolate": "monotone"}, "encoding": {"detail": {"field": "lev", "type": "nominal"}, "order": {"value": null}}},
          {"data": {"name": "isolab"}, "transform": [{"filter": "datum.p === 'conrad'"}], "mark": {"type": "point", "shape": "M-1.1,-0.6L1.1,-0.6L1.1,0.6L-1.1,0.6Z", "size": 400, "angle": 342, "filled": true, "color": "white", "opacity": 1, "clip": true}, "encoding": {}},
          {"data": {"name": "isolab"}, "transform": [{"filter": "datum.p === 'conrad'"}], "mark": {"type": "text", "color": "#9a9a9a", "fontSize": 16, "fontWeight": "bold", "angle": 342, "clip": true}, "encoding": {"text": {"field": "t"}}},
          {"data": {"name": "ts"}, "transform": [{"filter": "datum.p === 'conrad'"}], "mark": {"type": "line", "strokeWidth": 9, "strokeCap": "round", "strokeJoin": "round", "clip": true}, "encoding": {"color": {"field": "s", "type": "nominal", "legend": null, "scale": {"domain": ["Dog 1","Dog 2","Dog 3","Conrad 1","Conrad 2","Noroit 1","Noroit 2"], "range": ["#c46ff0","#5468f5","#1ec8a8","#35a532","#ffc818","#d42618","#f9bd86"]}}, "order": {"value": null}}},
          {"data": {"name": "sig"}, "transform": [{"filter": "datum.p === 'conrad'"}], "mark": {"type": "text", "color": "#8a8a8a", "fontSize": 30, "fontWeight": "bold", "fontStyle": "italic", "font": "DejaVu Sans", "opacity": 0.95}, "encoding": {"text": {"field": "t"}}},
          {"data": {"name": "wm"}, "transform": [{"filter": "datum.p === 'conrad' && datum.g === 'ts' && datum.t !== 'SSW'"}], "mark": {"type": "text", "fontSize": 28, "color": "#000"}, "encoding": {"text": {"field": "t"}}},
          {"data": {"name": "wm"}, "transform": [{"filter": "datum.p === 'conrad' && datum.g === 'ts' && datum.t === 'SSW'"}], "mark": {"type": "text", "fontSize": 28, "color": "#000", "angle": 332}, "encoding": {"text": {"field": "t"}}}
        ]
      },
      {
        "width": 575, "height": 633,
        "title": {"text": "Noroit Seamount", "dx": 0},
        "encoding": {
          "x": {"field": "x", "type": "quantitative", "scale": {"domain": [34.26, 37.0], "nice": false, "zero": false}, "axis": {"title": null, "values": [34.5,34.75,35,35.25,35.5,35.75,36,36.25,36.5,36.75,37], "format": "~g", "labelExpr": "(datum.value*2)%1===0 && datum.value<37 ? datum.label : ''"}},
          "y": {"field": "y", "type": "quantitative", "scale": {"domain": [2.5, 30], "nice": false, "zero": false}, "axis": {"title": null, "values": [2.5,5,7.5,10,12.5,15,17.5,20,22.5,25,27.5,30], "format": "~g", "labelExpr": "datum.value%5===0 ? datum.label : ''"}}
        },
        "layer": [
          {"data": {"name": "iso"}, "mark": {"type": "line", "clip": true, "color": "#cdcdcd", "strokeWidth": 1.4, "interpolate": "monotone"}, "encoding": {"detail": {"field": "lev", "type": "nominal"}, "order": {"value": null}}},
          {"data": {"name": "isolab"}, "transform": [{"filter": "datum.p === 'noroit'"}], "mark": {"type": "point", "shape": "M-1.1,-0.6L1.1,-0.6L1.1,0.6L-1.1,0.6Z", "size": 400, "angle": 342, "filled": true, "color": "white", "opacity": 1, "clip": true}, "encoding": {}},
          {"data": {"name": "isolab"}, "transform": [{"filter": "datum.p === 'noroit'"}], "mark": {"type": "text", "color": "#9a9a9a", "fontSize": 16, "fontWeight": "bold", "angle": 342, "clip": true}, "encoding": {"text": {"field": "t"}}},
          {"data": {"name": "ts"}, "transform": [{"filter": "datum.p === 'noroit'"}], "mark": {"type": "line", "strokeWidth": 9, "strokeCap": "round", "strokeJoin": "round", "clip": true}, "encoding": {"color": {"field": "s", "type": "nominal", "legend": null, "scale": {"domain": ["Dog 1","Dog 2","Dog 3","Conrad 1","Conrad 2","Noroit 1","Noroit 2"], "range": ["#c46ff0","#5468f5","#1ec8a8","#35a532","#ffc818","#d42618","#f9bd86"]}}, "order": {"value": null}}},
          {"data": {"name": "sig"}, "transform": [{"filter": "datum.p === 'noroit'"}], "mark": {"type": "text", "color": "#8a8a8a", "fontSize": 30, "fontWeight": "bold", "fontStyle": "italic", "font": "DejaVu Sans", "opacity": 0.95}, "encoding": {"text": {"field": "t"}}},
          {"data": {"name": "wm"}, "transform": [{"filter": "datum.p === 'noroit' && datum.g === 'ts' && datum.t !== 'SSW'"}], "mark": {"type": "text", "fontSize": 28, "color": "#000"}, "encoding": {"text": {"field": "t"}}},
          {"data": {"name": "wm"}, "transform": [{"filter": "datum.p === 'noroit' && datum.g === 'ts' && datum.t === 'SSW'"}], "mark": {"type": "text", "fontSize": 28, "color": "#000", "angle": 332}, "encoding": {"text": {"field": "t"}}}
        ]
      }
    ],
    "spacing": 55,
    "bounds": "flush"
  },
  {
    "hconcat": [
      {
        "width": 600, "height": 650,
        "encoding": {
          "x": {"field": "x", "type": "quantitative", "scale": {"domain": [4.5, 9], "nice": false, "zero": false}, "axis": {"title": null, "values": [4.5,5,5.5,6,6.5,7,7.5,8,8.5,9], "format": "~g", "labelExpr": "datum.value%1===0 && datum.value<9 ? datum.label : ''"}},
          "y": {"field": "y", "type": "quantitative", "scale": {"domain": [0, 2000], "reverse": true, "nice": false, "zero": false}, "axis": {"title": "Depth (m)", "titleX": -92, "titleY": 325, "titleBaseline": "middle", "values": [0,250,500,750,1000,1250,1500,1750,2000], "format": "d", "labelExpr": "datum.value%500===0 ? datum.label : ''"}}
        },
        "layer": [
          {"data": {"name": "ox"}, "transform": [{"filter": "datum.p === 'dog'"}], "mark": {"type": "line", "strokeWidth": 7, "strokeCap": "round", "strokeJoin": "round", "clip": true}, "encoding": {"color": {"field": "s", "type": "nominal", "legend": null, "scale": {"domain": ["Dog 1","Dog 2","Dog 3","Conrad 1","Conrad 2","Noroit 1","Noroit 2"], "range": ["#c46ff0","#5468f5","#1ec8a8","#35a532","#ffc818","#d42618","#f9bd86"]}}, "order": {"value": null}}},
          {"data": {"name": "wm"}, "transform": [{"filter": "datum.p === 'dog' && datum.g === 'ox'"}], "mark": {"type": "text", "fontSize": 28, "color": "#000"}, "encoding": {"text": {"field": "t"}}}
        ]
      },
      {
        "width": 600, "height": 650,
        "encoding": {
          "x": {"field": "x", "type": "quantitative", "scale": {"domain": [4.5, 9], "nice": false, "zero": false}, "axis": {"title": "Dissolved Oxygen (mg L⁻¹)", "titleX": 252, "titleY": 63, "titleBaseline": "middle", "values": [4.5,5,5.5,6,6.5,7,7.5,8,8.5,9], "format": "~g", "labelExpr": "datum.value%1===0 && datum.value<9 ? datum.label : ''"}},
          "y": {"field": "y", "type": "quantitative", "scale": {"domain": [0, 2000], "reverse": true, "nice": false, "zero": false}, "axis": {"title": null, "labels": false, "values": [0,250,500,750,1000,1250,1500,1750,2000]}}
        },
        "layer": [
          {"data": {"name": "ox"}, "transform": [{"filter": "datum.p === 'conrad'"}], "mark": {"type": "line", "strokeWidth": 7, "strokeCap": "round", "strokeJoin": "round", "clip": true}, "encoding": {"color": {"field": "s", "type": "nominal", "legend": null, "scale": {"domain": ["Dog 1","Dog 2","Dog 3","Conrad 1","Conrad 2","Noroit 1","Noroit 2"], "range": ["#c46ff0","#5468f5","#1ec8a8","#35a532","#ffc818","#d42618","#f9bd86"]}}, "order": {"value": null}}},
          {"data": {"name": "wm"}, "transform": [{"filter": "datum.p === 'conrad' && datum.g === 'ox'"}], "mark": {"type": "text", "fontSize": 28, "color": "#000"}, "encoding": {"text": {"field": "t"}}}
        ]
      },
      {
        "width": 600, "height": 650,
        "encoding": {
          "x": {"field": "x", "type": "quantitative", "scale": {"domain": [4.5, 9], "nice": false, "zero": false}, "axis": {"title": null, "values": [4.5,5,5.5,6,6.5,7,7.5,8,8.5,9], "format": "~g", "labelExpr": "datum.value%1===0 && datum.value<9 ? datum.label : ''"}},
          "y": {"field": "y", "type": "quantitative", "scale": {"domain": [0, 2000], "reverse": true, "nice": false, "zero": false}, "axis": {"title": null, "labels": false, "values": [0,250,500,750,1000,1250,1500,1750,2000]}}
        },
        "layer": [
          {"data": {"name": "ox"}, "transform": [{"filter": "datum.p === 'noroit'"}], "mark": {"type": "line", "strokeWidth": 7, "strokeCap": "round", "strokeJoin": "round", "clip": true}, "encoding": {"color": {"field": "s", "type": "nominal", "legend": null, "scale": {"domain": ["Dog 1","Dog 2","Dog 3","Conrad 1","Conrad 2","Noroit 1","Noroit 2"], "range": ["#c46ff0","#5468f5","#1ec8a8","#35a532","#ffc818","#d42618","#f9bd86"]}}, "order": {"value": null}}},
          {"data": {"name": "wm"}, "transform": [{"filter": "datum.p === 'noroit' && datum.g === 'ox'"}], "mark": {"type": "text", "fontSize": 28, "color": "#000"}, "encoding": {"text": {"field": "t"}}}
        ]
      }
    ],
    "spacing": 28,
    "bounds": "flush"
  }
]
}
